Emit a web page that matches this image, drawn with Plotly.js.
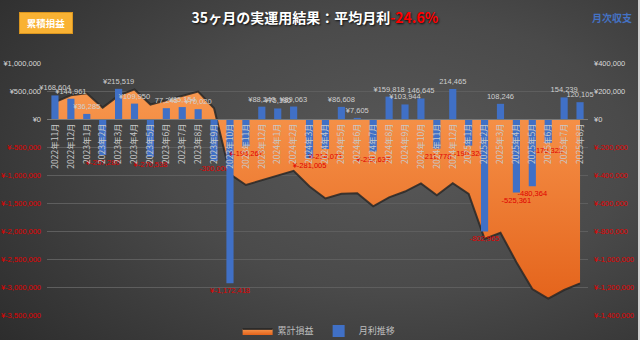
<!DOCTYPE html>
<html><head><meta charset="utf-8">
<script src="https://cdn.plot.ly/plotly-3.0.1.min.js"></script>
<style>
html,body{margin:0;padding:0;width:640px;height:340px;overflow:hidden;background:#333;}
#wrap{position:relative;width:640px;height:340px;background:radial-gradient(ellipse 80% 90% at 62% 45%, #585858 0%, #4a4a4a 45%, #2c2c2c 100%);}
#edge{position:absolute;right:0;top:0;width:2px;height:340px;background:#cfcfcf;}
#chart{width:640px;height:340px;}
</style></head><body><div id="wrap"><div id="chart"></div><div id="edge"></div></div>
<script>
const months = ['2022年11月','2022年12月','2023年1月','2023年2月','2023年3月','2023年4月','2023年5月','2023年6月','2023年7月','2023年8月','2023年9月','2023年10月','2023年11月','2023年12月','2024年1月','2024年2月','2024年3月','2024年4月','2024年5月','2024年6月','2024年7月','2024年8月','2024年9月','2024年10月','2024年11月','2024年12月','2025年1月','2025年2月','2025年3月','2025年4月','2025年5月','2025年6月','2025年7月','2025年8月'];
const monthlyPL = [168604,144961,36285,-257280,215519,109950,-270538,77245,85154,70020,-300000,-1172418,-195267,88240,75180,89063,-281005,-214071,86608,7605,-232637,159818,103944,146645,-211778,214465,-190326,-802965,108246,-525361,-480364,-170322,154239,120105];
const cumulativePL = [300000,423000,460000,203000,418000,528000,258000,335000,420000,490000,190000,-983000,-1178000,-1090000,-1015000,-925000,-1206000,-1420000,-1334000,-1326000,-1559000,-1399000,-1295000,-1149000,-1361000,-1147000,-1337000,-2140000,-2032000,-2557000,-3038000,-3208000,-3054000,-2934000];
const yenPrefix = [1,1,1,1,1,1,1,0,1,1,0,1,1,1,1,1,1,1,1,1,1,1,1,0,0,0,0,0,0,0,0,0,0,0];
const leftTickVals = [1000000,500000,0,-500000,-1000000,-1500000,-2000000,-2500000,-3000000,-3500000];
const rightTickVals = [400000,200000,0,-200000,-400000,-600000,-800000,-1000000,-1200000,-1400000];

const RED = '#e00000';
const fmt = v => v.toLocaleString('en-US');
const tickText = v => v < 0 ? `<span style="color:${RED}">¥${fmt(v)}</span>` : `¥${fmt(v)}`;
const barLabels = monthlyPL.map((v,i) => (yenPrefix[i] ? '¥' : '') + fmt(v));
const barLabelColors = monthlyPL.map(v => v < 0 ? RED : '#cfcfcf');
const FONT = '"Liberation Sans", "Noto Sans CJK JP", sans-serif';

const area = {
  type:'scatter', mode:'lines', x: months, y: cumulativePL, name:'累計損益', yaxis:'y',
  fill:'tozeroy',
  line:{color:'rgba(40,40,40,0.85)', width:2},
  fillcolor:'#F08035',
  fillgradient:{type:'vertical', colorscale:[[0,'#E4631B'],[1,'#F8984F']], start:-3300000, stop:600000},
  hoverinfo:'skip'
};
const bars = {
  type:'bar', x: months, y: monthlyPL, name:'月利推移', yaxis:'y2',
  marker:{color:'#4070C6', line:{width:0}},
  text: barLabels, textposition:'outside', textangle:0, cliponaxis:false, constraintext:'none',
  textfont:{size:7.5, color: barLabelColors, family: FONT},
  hoverinfo:'skip'
};

const layout = {
  width:640, height:340,
  margin:{l:47, r:52, t:63, b:25, autoexpand:false},
  paper_bgcolor:'rgba(0,0,0,0)', plot_bgcolor:'rgba(0,0,0,0)',
  font:{family: FONT, color:'#d0d0d0'},
  bargap:0.55,
  showlegend:true,
  legend:{orientation:'h', x:0.503, xanchor:'center', y:-0.063, yanchor:'middle', font:{size:9, color:'#bfbfbf', family:'"Noto Sans CJK JP", sans-serif'}, itemwidth:30, bgcolor:'rgba(0,0,0,0)'},
  title:{text:'35ヶ月の実運用結果：平均月利<span style="color:#ff0000">-24.6%</span>', x:0.492, xanchor:'center', y:0.947, yanchor:'middle',
    font:{size:14, color:'#ffffff', family:'"Noto Sans CJK JP", sans-serif', weight:'bold', shadow:'1px 1px 2px rgba(0,0,0,0.8)'}},
  xaxis:{type:'category', anchor:'free', position:7/9, tickangle:-90, tickmode:'array', tickvals: months, ticktext: months,
    tickfont:{size:8.5, color:'#c8c8c8', family:'"Noto Sans CJK JP", sans-serif'}, showline:true, linecolor:'#7a7a7a', linewidth:1,
    ticks:'', showgrid:false, zeroline:false, range:[-0.5, 33.5]},
  yaxis:{range:[-3500000, 1000000], tickmode:'array', tickvals:leftTickVals, ticktext:leftTickVals.map(tickText),
    showgrid:true, gridcolor:'#5e5e5e', gridwidth:1, zeroline:false, showline:false, ticks:'', ticklabelstandoff:5,
    tickfont:{size:7.5, color:'#d9d9d9'}},
  yaxis2:{overlaying:'y', side:'right', anchor:'x', range:[-1400000, 400000], tickmode:'array', tickvals:rightTickVals, ticktext:rightTickVals.map(tickText),
    showgrid:false, zeroline:false, showline:false, ticks:'', ticklabelstandoff:5,
    tickfont:{size:7.5, color:'#d9d9d9'}},
  annotations:[
    {text:'<b>累積損益</b>', xref:'paper', yref:'paper', x:-0.001, y:1.159, xanchor:'center', yanchor:'middle', showarrow:false,
     bgcolor:'#F9B233', bordercolor:'#D9951F', borderwidth:1, width:50, height:18,
     font:{size:9.5, color:'#ffffff', family:'"Noto Sans CJK JP", sans-serif'}},
    {text:'<b>月次収支</b>', xref:'paper', yref:'paper', x:1.0444, y:1.1786, xanchor:'center', yanchor:'middle', showarrow:false,
     font:{size:10, color:'#4472C4', family:'"Noto Sans CJK JP", sans-serif'}}
  ]
};

Plotly.newPlot('chart', [area, bars], layout, {staticPlot:true, displayModeBar:false});
</script></body></html>
